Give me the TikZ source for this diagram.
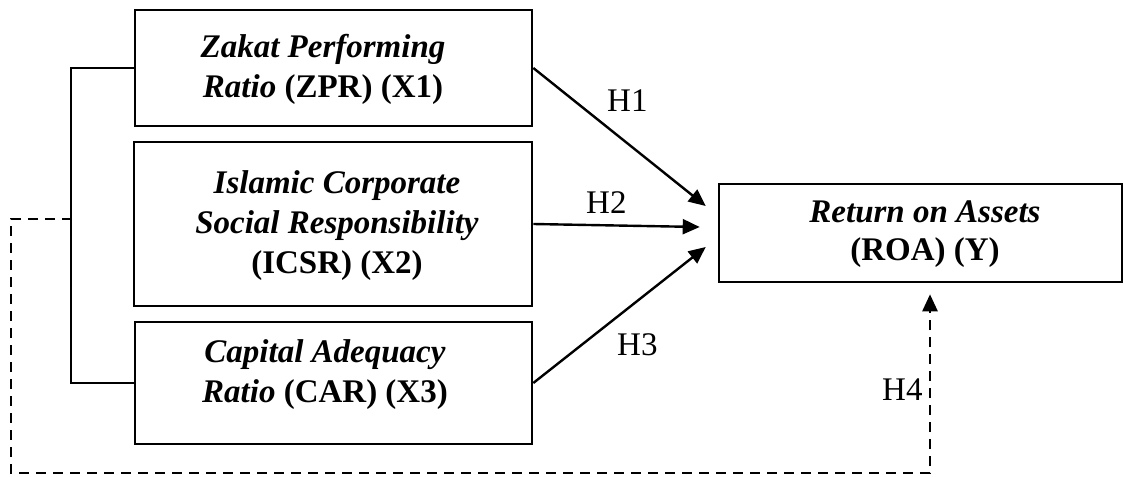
\documentclass[tikz,border=0pt]{standalone}
\usepackage{fontspec}
\setmainfont{Liberation Serif}
\usetikzlibrary{arrows.meta,calc}
\begin{document}
\begin{tikzpicture}[x=1pt,y=-1pt,
  box/.style={draw,line width=2.6pt,inner sep=0pt},
  txt/.style={align=center,font=\fontsize{33}{40}\selectfont,inner sep=0pt},
  hl/.style={font=\fontsize{33}{40}\selectfont,inner sep=0pt,anchor=base west},
  ln/.style={line width=2.4pt},
  arr/.style={line width=2.4pt,-{Triangle[length=17pt,width=15pt]}},
  dsh/.style={line width=2.6pt,dash pattern=on 10pt off 7pt}
]
\useasboundingbox (0,0) rectangle (1123,476);
% boxes
\node[box,minimum width=397pt,minimum height=116pt] (zpr) at (333.5,68) {};
\node[box,minimum width=398pt,minimum height=164pt] (icsr) at (333,224) {};
\node[box,minimum width=397pt,minimum height=122pt] (car) at (333.5,383) {};
\node[box,minimum width=403pt,minimum height=98pt] (roa) at (920.5,233) {};
% texts
\node[txt] (zprt) at (323,69) {\textbf{\textit{Zakat Performing}}\\\textbf{\textit{Ratio} (ZPR) (X1)}};
\node[txt] (icsrt) at (337,226) {\textbf{\textit{Islamic Corporate}}\\\textbf{\textit{Social Responsibility}}\\\textbf{(ICSR) (X2)}};
\node[txt] (cart) at (325,375) {\textbf{\textit{Capital Adequacy}}\\\textbf{\textit{Ratio} (CAR) (X3)}};
\node[txt,font=\fontsize{33}{38}\selectfont] (roat) at (925,234) {\textbf{\textit{Return on Assets}}\\\textbf{(ROA) (Y)}};
% bracket
\coordinate (jn) at (72,219);
\draw[ln] (zpr.west) -- ++(-63,0) |- (car.west);
% arrow tips
\coordinate (t1) at ($(roa.west)+(-12,-27)$);
\coordinate (t2) at ($(roa.west)+(-18,-6)$);
\coordinate (t3) at ($(roa.west)+(-12,14)$);
\coordinate (h4t) at ($(roa.south)+(9.5,11)$);
\coordinate (c1) at (11,473);
\draw[arr] (zpr.east) -- (t1);
\draw[arr] (icsr.east) -- (t2);
\draw[arr] (car.east) -- (t3);
\draw[dsh,-{Triangle[length=17pt,width=15pt]}] (jn) -| (c1) -| (h4t);
% labels
\node[hl] (h1) at (607,112) {H1};
\node[hl] (h2) at (586,213) {H2};
\node[hl] (h3) at (617,355) {H3};
\node[hl] (h4) at (882,400) {H4};
\end{tikzpicture}
\end{document}
